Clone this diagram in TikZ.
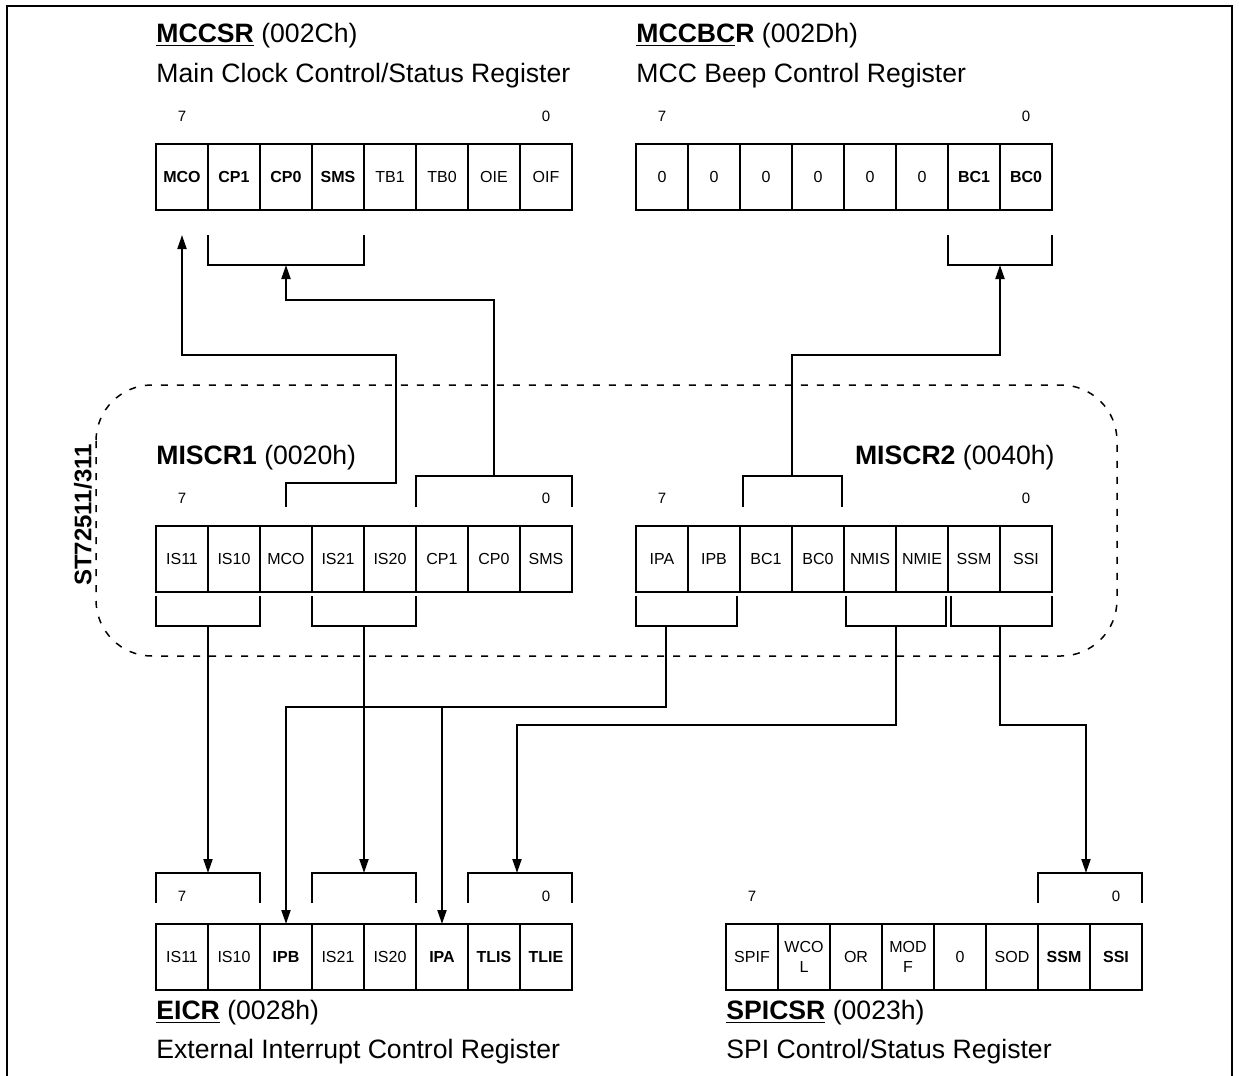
\documentclass[tikz,border=0pt]{standalone}
\usepackage{fontspec}
\setmainfont{Liberation Sans}
\usetikzlibrary{positioning,arrows.meta,calc}

\newcommand{\regtitle}{\fontsize{13.3}{15}\selectfont}
\newcommand{\regcell}{\fontsize{8}{10}\selectfont}
\newcommand{\regbit}{\fontsize{7.5}{9}\selectfont}

\begin{document}
\begin{tikzpicture}[
    x=0.5pt, y=-0.5pt,
    cell/.style={draw, line width=1pt, minimum width=26pt, minimum height=33pt, inner sep=0pt, outer sep=0pt, align=center, font=\regcell},
    bitno/.style={inner sep=0pt, font=\regbit},
    title/.style={anchor=base west, inner sep=0pt, font=\regtitle},
    wire/.style={line width=1pt},
    arrow/.style={-{Triangle[length=7pt,width=4.5pt]}, line width=1pt},
    node distance=0pt
]
    \useasboundingbox (0,0) rectangle (1239,1076);

    % outer frame and device area
    \draw[line width=1pt] (7,1080) |- (1232,6) -- (1232,1080);
    \draw[line width=0.75pt, dash pattern=on 3.5pt off 4.5pt, rounded corners=28pt] (96,385) rectangle (1117,656);
    \node[rotate=90, font=\bfseries\fontsize{12}{14}\selectfont] (chip) at (83,515) {ST72511/311};

    % MCCSR
    \node[title] (a-name) at (156,42) {\underline{\textbf{MCCSR}} (002Ch)};
    \node[title] (a-desc) at (156,83) {Main Clock Control/Status Register};
    \node[cell, anchor=north west] (a0) at (156,144) {\textbf{MCO}};
    \node[cell, right=of a0] (a1) {\textbf{CP1}};
    \node[cell, right=of a1] (a2) {\textbf{CP0}};
    \node[cell, right=of a2] (a3) {\textbf{SMS}};
    \node[cell, right=of a3] (a4) {TB1};
    \node[cell, right=of a4] (a5) {TB0};
    \node[cell, right=of a5] (a6) {OIE};
    \node[cell, right=of a6] (a7) {OIF};
    \node[bitno, above=11pt of a0] (a-hi) {7};
    \node[bitno, above=11pt of a7] (a-lo) {0};

    % MCCBCR
    \node[title] (b-name) at (636,42) {\underline{\textbf{MCCBC}}\textbf{R} (002Dh)};
    \node[title] (b-desc) at (636,83) {MCC Beep Control Register};
    \node[cell, anchor=north west] (b0) at (636,144) {0};
    \node[cell, right=of b0] (b1) {0};
    \node[cell, right=of b1] (b2) {0};
    \node[cell, right=of b2] (b3) {0};
    \node[cell, right=of b3] (b4) {0};
    \node[cell, right=of b4] (b5) {0};
    \node[cell, right=of b5] (b6) {\textbf{BC1}};
    \node[cell, right=of b6] (b7) {\textbf{BC0}};
    \node[bitno, above=11pt of b0] (b-hi) {7};
    \node[bitno, above=11pt of b7] (b-lo) {0};

    % MISCR1
    \node[title] (c-name) at (156,464) {\textbf{MISCR1} (0020h)};
    \node[cell, anchor=north west] (c0) at (156,526) {IS11};
    \node[cell, right=of c0] (c1) {IS10};
    \node[cell, right=of c1] (c2) {MCO};
    \node[cell, right=of c2] (c3) {IS21};
    \node[cell, right=of c3] (c4) {IS20};
    \node[cell, right=of c4] (c5) {CP1};
    \node[cell, right=of c5] (c6) {CP0};
    \node[cell, right=of c6] (c7) {SMS};
    \node[bitno, above=11pt of c0] (c-hi) {7};
    \node[bitno, above=11pt of c7] (c-lo) {0};

    % MISCR2
    \node[title, anchor=base east] (d-name) at (1055,464) {\textbf{MISCR2} (0040h)};
    \node[cell, anchor=north west] (d0) at (636,526) {IPA};
    \node[cell, right=of d0] (d1) {IPB};
    \node[cell, right=of d1] (d2) {BC1};
    \node[cell, right=of d2] (d3) {BC0};
    \node[cell, right=of d3] (d4) {NMIS};
    \node[cell, right=of d4] (d5) {NMIE};
    \node[cell, right=of d5] (d6) {SSM};
    \node[cell, right=of d6] (d7) {SSI};
    \node[bitno, above=11pt of d0] (d-hi) {7};
    \node[bitno, above=11pt of d7] (d-lo) {0};

    % EICR
    \node[cell, anchor=north west] (e0) at (156,924) {IS11};
    \node[cell, right=of e0] (e1) {IS10};
    \node[cell, right=of e1] (e2) {\textbf{IPB}};
    \node[cell, right=of e2] (e3) {IS21};
    \node[cell, right=of e3] (e4) {IS20};
    \node[cell, right=of e4] (e5) {\textbf{IPA}};
    \node[cell, right=of e5] (e6) {\textbf{TLIS}};
    \node[cell, right=of e6] (e7) {\textbf{TLIE}};
    \node[bitno, above=11pt of e0] (e-hi) {7};
    \node[bitno, above=11pt of e7] (e-lo) {0};
    \node[title] (e-name) at (156,1019) {\underline{\textbf{EICR}} (0028h)};
    \node[title] (e-desc) at (156,1058) {External Interrupt Control Register};

    % SPICSR
    \node[cell, anchor=north west] (f0) at (726,924) {SPIF};
    \node[cell, right=of f0] (f1) {WCO\\L};
    \node[cell, right=of f1] (f2) {OR};
    \node[cell, right=of f2] (f3) {MOD\\F};
    \node[cell, right=of f3] (f4) {0};
    \node[cell, right=of f4] (f5) {SOD};
    \node[cell, right=of f5] (f6) {\textbf{SSM}};
    \node[cell, right=of f6] (f7) {\textbf{SSI}};
    \node[bitno, above=11pt of f0] (f-hi) {7};
    \node[bitno, above=11pt of f7] (f-lo) {0};
    \node[title] (f-name) at (726,1019) {\underline{\textbf{SPICSR}} (0023h)};
    \node[title] (f-desc) at (726,1058) {SPI Control/Status Register};

    % brackets
    \draw[wire] ($(a1.south west)+(0,25)$) |- ($(a3.south east)+(0,55)$) -- ++(0,-30);
    \draw[wire] ($(b6.south west)+(0,25)$) |- ($(b7.south east)+(0,55)$) -- ++(0,-30);
    \draw[wire] ($(c5.north west)+(0,-19)$) |- ($(c7.north east)+(0,-50)$) -- ++(0,31);
    \draw[wire] ($(d2.north west)+(3,-19)$) |- ($(d3.north east)+(-2,-50)$) -- ++(0,31);
    \draw[wire] ($(c0.south west)+(0,4)$) |- ($(c1.south east)+(0,34)$) -- ++(0,-30);
    \draw[wire] ($(c3.south west)+(0,4)$) |- ($(c4.south east)+(0,34)$) -- ++(0,-30);
    \draw[wire] ($(d0.south west)+(0,4)$) |- ($(d1.south east)+(-3,34)$) -- ++(0,-30);
    \draw[wire] ($(d4.south west)+(2,4)$) |- ($(d5.south east)+(-2,34)$) -- ++(0,-30);
    \draw[wire] ($(d6.south west)+(3,4)$) |- ($(d7.south east)+(0,34)$) -- ++(0,-30);
    \draw[wire] ($(e0.north west)+(0,-21)$) |- ($(e1.north east)+(0,-51)$) -- ++(0,30);
    \draw[wire] ($(e3.north west)+(0,-21)$) |- ($(e4.north east)+(0,-51)$) -- ++(0,30);
    \draw[wire] ($(e6.north west)+(0,-21)$) |- ($(e7.north east)+(0,-51)$) -- ++(0,30);
    \draw[wire] ($(f6.north west)+(0,-21)$) |- ($(f7.north east)+(0,-51)$) -- ++(0,30);

    % bracket taps
    \coordinate (a-mco) at ($(a0.south)+(0,25)$);
    \coordinate (a-cp) at ($(a1.south west)!0.5!(a3.south east)+(0,55)$);
    \coordinate (b-bc) at ($(b6.south west)!0.5!(b7.south east)+(0,55)$);
    \coordinate (c-mco) at ($(c2.north)+(0,-19)$);
    \coordinate (c-cp) at ($(c5.north west)!0.5!(c7.north east)+(0,-50)$);
    \coordinate (d-bc) at ($(d2.north west)!0.5!(d3.north east)+(0,-50)$);
    \coordinate (c-is1) at ($(c0.south west)!0.5!(c1.south east)+(0,34)$);
    \coordinate (c-is2) at ($(c3.south west)!0.5!(c4.south east)+(0,34)$);
    \coordinate (d-ip) at ($(d0.south)+(4,34)$);
    \coordinate (d-nmi) at ($(d4.south west)!0.5!(d5.south east)+(0,34)$);
    \coordinate (d-ss) at ($(d6.south west)!0.5!(d7.south east)+(0,34)$);
    \coordinate (e-is1) at ($(e0.north west)!0.5!(e1.north east)+(0,-51)$);
    \coordinate (e-is2) at ($(e3.north west)!0.5!(e4.north east)+(0,-51)$);
    \coordinate (e-tl) at ($(e6.north west)!0.5!(e7.north east)+(-3,-51)$);
    \coordinate (f-ss) at ($(f6.north west)!0.5!(f7.north east)+(-4,-51)$);
    \coordinate (ip-bus) at ($(d-ip)+(0,81)$);

    % connections
    \draw[arrow] (c-mco) -- ++(0,-24) -| ++(110,-128) -| (a-mco);
    \draw[arrow] (c-cp) -- ++(0,-176) -| (a-cp);
    \draw[arrow] (d-bc) -- ++(0,-121) -| (b-bc);
    \draw[arrow] (c-is1) -- (e-is1);
    \draw[arrow] (c-is2) -- (e-is2);
    \draw[arrow] (d-ip) -- (ip-bus) -| (e2.north);
    \draw[arrow] (ip-bus -| e5.north) -- (e5.north);
    \draw[arrow] (d-nmi) -- ++(0,99) -| (e-tl);
    \draw[arrow] (d-ss) -- ++(0,99) -| (f-ss);
\end{tikzpicture}
\end{document}
